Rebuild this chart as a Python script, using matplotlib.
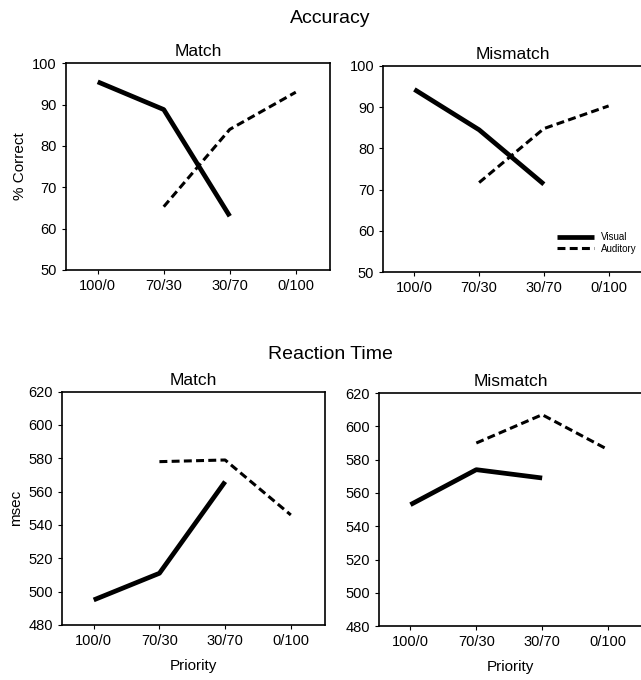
import matplotlib
matplotlib.use('Agg')
import matplotlib.pyplot as plt

plt.rcParams['font.family'] = ['Liberation Sans', 'DejaVu Sans']

priority = ['100/0', '70/30', '30/70', '0/100']

# accuracy (% correct)
acc_match_visual = [95.5, 88.8, 63.0]
acc_match_auditory = [65.3, 84.0, 93.0]
acc_mismatch_visual = [94.3, 84.5, 71.3]
acc_mismatch_auditory = [71.7, 84.8, 90.3]

# reaction time (msec)
rt_match_visual = [495, 511, 566]
rt_match_auditory = [578, 579, 546]
rt_mismatch_visual = [553, 574, 569]
rt_mismatch_auditory = [590, 607, 586]

vis_x = [0, 1, 2]
aud_x = [1, 2, 3]

fig = plt.figure(figsize=(6.41, 6.80), dpi=100)

def panel(rect, vis, aud, ylim, yticks, title, ylabel=None, xlabel=None, legend=False):
    ax = fig.add_axes(rect)
    ax.plot(vis_x, vis, color='black', lw=3.4, solid_capstyle='butt', label='Visual')
    ax.plot(aud_x, aud, color='black', lw=2.2, dashes=(2.6, 1.4), label='Auditory')
    ax.set_xlim(-0.48, 3.52)
    ax.set_ylim(*ylim)
    ax.set_yticks(yticks)
    ax.set_xticks(range(4))
    ax.set_xticklabels(priority)
    ax.tick_params(labelsize=10.5, length=3, width=0.8, direction='out')
    for s in ax.spines.values():
        s.set_linewidth(1.2)
    ax.set_title(title, fontsize=12.5, pad=5)
    if ylabel:
        ax.set_ylabel(ylabel, fontsize=11)
    if xlabel:
        ax.set_xlabel(xlabel, fontsize=11, labelpad=8)
    if legend:
        ax.legend(loc='lower right', frameon=False, fontsize=7, handlelength=3.8,
                  borderaxespad=0.2, labelspacing=0.15, handletextpad=0.7,
                  bbox_to_anchor=(1.0, 0.06))
    return ax

panel([0.103, 0.603, 0.412, 0.304], acc_match_visual, acc_match_auditory,
      (50, 100), range(50, 101, 10), 'Match', ylabel='% Correct')
panel([0.598, 0.600, 0.404, 0.303], acc_mismatch_visual, acc_mismatch_auditory,
      (50, 100), range(50, 101, 10), 'Mismatch', legend=True)
panel([0.097, 0.081, 0.410, 0.343], rt_match_visual, rt_match_auditory,
      (480, 620), range(480, 621, 20), 'Match', ylabel='msec', xlabel='Priority')
panel([0.591, 0.079, 0.411, 0.343], rt_mismatch_visual, rt_mismatch_auditory,
      (480, 620), range(480, 621, 20), 'Mismatch', xlabel='Priority')

fig.text(0.515, 0.973, 'Accuracy', ha='center', va='center', fontsize=14)
fig.text(0.515, 0.478, 'Reaction Time', ha='center', va='center', fontsize=14)

fig.savefig('out.png', dpi=100, facecolor='white')
